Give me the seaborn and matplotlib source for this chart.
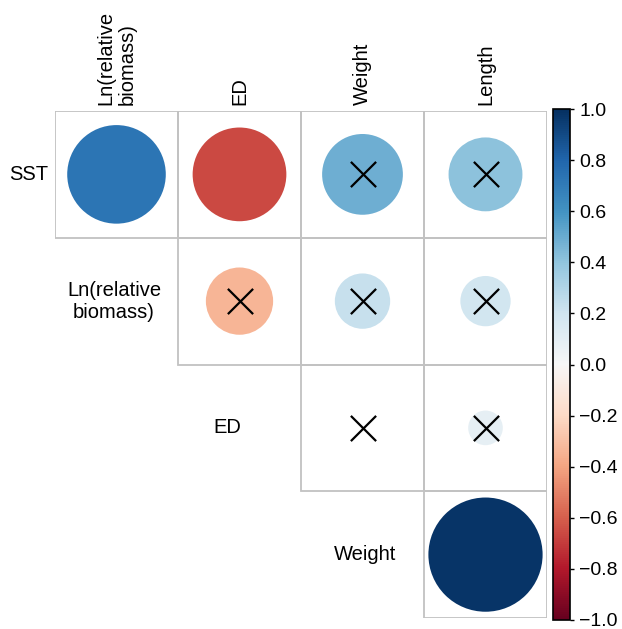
import numpy as np
import pandas as pd
import matplotlib
matplotlib.use("Agg")
import matplotlib.pyplot as plt
from matplotlib.patches import Rectangle
import seaborn as sns

sns.set_style("white")
plt.rcParams['font.family'] = ['Liberation Sans', 'DejaVu Sans']
plt.rcParams['text.color'] = 'black'
plt.rcParams['ytick.color'] = 'black'

row_vars = ["SST", "Ln(relative\nbiomass)", "ED", "Weight"]
col_vars = ["Ln(relative\nbiomass)", "ED", "Weight", "Length"]

# upper triangle: (row, col, r, significant)
rows = [0, 0, 0, 0, 1, 1, 1, 2, 2, 3]
cols = [0, 1, 2, 3, 1, 2, 3, 2, 3, 3]
rvals = [0.73, -0.66, 0.49, 0.41, -0.34, 0.23, 0.19, 0.0, 0.09, 0.98]
signif = [True, True, False, False, False, False, False, False, False, True]

cb_ticks = [-1.0, -0.8, -0.6, -0.4, -0.2, 0.0, 0.2, 0.4, 0.6, 0.8, 1.0]
cb_labels = ["\u22121.0", "\u22120.8", "\u22120.6", "\u22120.4", "\u22120.2",
             "0.0", "0.2", "0.4", "0.6", "0.8", "1.0"]

df = pd.DataFrame({"row": rows, "col": cols, "r": rvals, "sig": signif})
df["absr"] = df["r"].abs()

W, H = 622, 629
fig = plt.figure(figsize=(W / 100, H / 100), dpi=100)
ax = fig.add_axes([55 / W, 11 / H, 492 / W, 507 / H])
cax = fig.add_axes([553 / W, 9 / H, 17 / W, 511 / H])

# grid of the upper triangle
for i in range(4):
    for j in range(i, 4):
        ax.add_patch(Rectangle((j - 0.5, i - 0.5), 1, 1, fill=False,
                               edgecolor="#c2c2c2", lw=1.3, zorder=1))

sns.scatterplot(data=df, x="col", y="row", hue="r", size="absr",
                palette="RdBu", hue_norm=(-1, 1), sizes=(0, 6900),
                size_norm=(0, 1), edgecolor="none", legend=False, ax=ax, zorder=2)

ns = df[~df["sig"]]
sns.scatterplot(data=ns, x="col", y="row", marker="x", s=330, color="black",
                linewidth=1.6, legend=False, ax=ax, zorder=3)

ax.set_xlim(-0.5, 3.5)
ax.set_ylim(3.5, -0.5)
ax.set_axis_off()

# row labels along the diagonal
lab_x = [-0.71, -0.02, 0.90, 2.02]
for i, lab in enumerate(row_vars):
    ax.text(lab_x[i], i, lab, ha="center", va="center", fontsize=14.5,
            multialignment="center", clip_on=False)

# column labels on top
for j, lab in enumerate(col_vars):
    ax.text(j, -0.55, lab, ha="center", va="bottom", rotation=90,
            fontsize=14.5, multialignment="left", clip_on=False)

sm = plt.cm.ScalarMappable(cmap="RdBu", norm=plt.Normalize(-1, 1))
cb = fig.colorbar(sm, cax=cax, ticks=cb_ticks)
cb.ax.set_yticklabels(cb_labels)
cb.ax.tick_params(labelsize=14, length=3, width=1, direction="out", color="black")
cb.outline.set_linewidth(1.2)
cb.outline.set_edgecolor("black")

fig.savefig("out.png", dpi=100)
